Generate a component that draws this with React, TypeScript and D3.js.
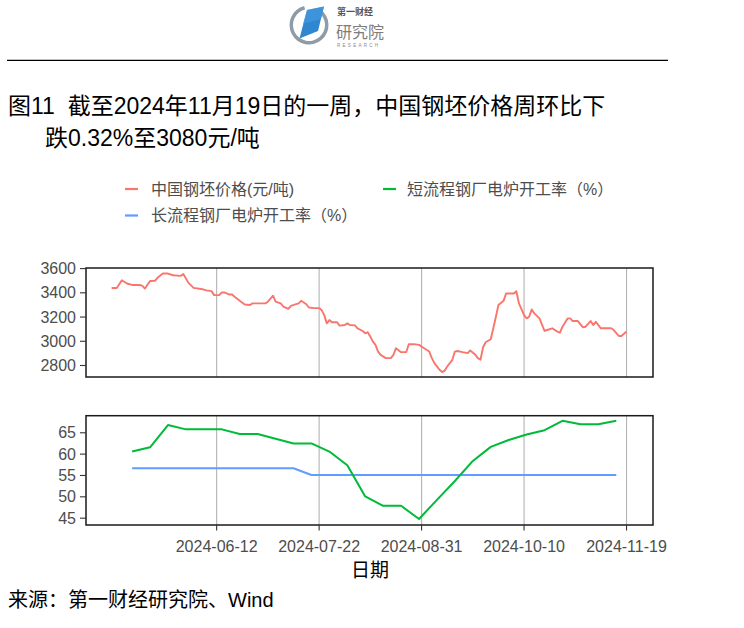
import React from 'react';
import * as d3 from 'd3';

// ---- Data ----
const priceDates = [
  '2024-05-02','2024-05-04','2024-05-06','2024-05-08','2024-05-10','2024-05-13','2024-05-14','2024-05-15','2024-05-17','2024-05-19',
  '2024-05-20','2024-05-22','2024-05-24','2024-05-26','2024-05-29','2024-05-30','2024-06-01','2024-06-03','2024-06-06','2024-06-08',
  '2024-06-10','2024-06-11','2024-06-13','2024-06-14','2024-06-15','2024-06-17','2024-06-18','2024-06-19','2024-06-21','2024-06-23',
  '2024-06-25','2024-06-26','2024-07-01','2024-07-02','2024-07-04','2024-07-05','2024-07-07','2024-07-08','2024-07-10','2024-07-11',
  '2024-07-13','2024-07-14','2024-07-15','2024-07-17','2024-07-18','2024-07-20','2024-07-22','2024-07-23','2024-07-24','2024-07-25',
  '2024-07-26','2024-07-27','2024-07-29','2024-07-30','2024-08-01','2024-08-02','2024-08-03','2024-08-05','2024-08-06','2024-08-08',
  '2024-08-09','2024-08-10','2024-08-11','2024-08-12','2024-08-13','2024-08-14','2024-08-15','2024-08-17','2024-08-19','2024-08-20',
  '2024-08-21','2024-08-23','2024-08-25','2024-08-26','2024-08-28','2024-08-30','2024-09-01','2024-09-03','2024-09-04','2024-09-05',
  '2024-09-07','2024-09-08','2024-09-09','2024-09-10','2024-09-12','2024-09-13','2024-09-14','2024-09-16','2024-09-18','2024-09-19',
  '2024-09-21','2024-09-22','2024-09-23','2024-09-24','2024-09-25','2024-09-27','2024-09-28','2024-09-29','2024-09-30','2024-10-02',
  '2024-10-03','2024-10-05','2024-10-06','2024-10-07','2024-10-08','2024-10-10','2024-10-11','2024-10-12','2024-10-13','2024-10-14',
  '2024-10-16','2024-10-18','2024-10-19','2024-10-21','2024-10-23','2024-10-24','2024-10-25','2024-10-27','2024-10-28','2024-10-29',
  '2024-10-31','2024-11-02','2024-11-03','2024-11-05','2024-11-06','2024-11-07','2024-11-09','2024-11-11','2024-11-13','2024-11-14',
  '2024-11-16','2024-11-17','2024-11-19',
];
const priceValues = [
  3440,3440,3504,3477,3465,3465,3458,3436,3498,3500,
  3526,3559,3559,3545,3540,3555,3482,3441,3432,3420,
  3414,3381,3381,3403,3403,3386,3386,3367,3334,3304,
  3300,3313,3313,3327,3376,3327,3313,3287,3268,3293,
  3306,3313,3334,3306,3279,3274,3274,3257,3216,3148,
  3175,3157,3157,3129,3134,3148,3134,3131,3107,3085,
  3066,3075,3038,2997,2970,2915,2888,2861,2861,2888,
  2943,2910,2910,2976,2976,2970,2943,2915,2861,2820,
  2765,2746,2757,2792,2847,2915,2920,2910,2902,2924,
  2888,2861,2847,2951,2992,3017,3107,3203,3299,3334,
  3395,3395,3395,3413,3312,3216,3189,3203,3263,3230,
  3189,3085,3093,3107,3080,3071,3120,3189,3189,3167,
  3167,3115,3120,3167,3134,3161,3107,3107,3107,3093,
  3044,3044,3080,
];

const rateDates = [
  '2024-05-10','2024-05-17','2024-05-24','2024-05-31','2024-06-07','2024-06-14','2024-06-21','2024-06-28',
  '2024-07-05','2024-07-12','2024-07-19','2024-07-26','2024-08-02','2024-08-09','2024-08-16','2024-08-23',
  '2024-08-30','2024-09-06','2024-09-13','2024-09-20','2024-09-27','2024-10-04','2024-10-11','2024-10-18',
  '2024-10-25','2024-11-01','2024-11-08','2024-11-15',
];
const shortRate = [
  60.6,61.6,66.8,65.8,65.8,65.8,64.7,64.7,
  63.6,62.5,62.5,60.6,57.4,50.1,47.9,47.9,
  44.8,49.3,53.7,58.4,61.7,63.3,64.6,65.6,
  67.8,67.0,67.0,67.8,
];
const longRate = [
  56.7,56.7,56.7,56.7,56.7,56.7,56.7,56.7,
  56.7,56.7,55.1,55.1,55.1,55.1,55.1,55.1,
  55.1,55.1,55.1,55.1,55.1,55.1,55.1,55.1,
  55.1,55.1,55.1,55.1,
];

const xTickLabels = ['2024-06-12','2024-07-22','2024-08-31','2024-10-10','2024-11-19'];
const priceTicks = [2800, 3000, 3200, 3400, 3600];
const rateTicks = [45, 50, 55, 60, 65];

const seriesNames = ['中国钢坯价格(元/吨)', '短流程钢厂电炉开工率（%）', '长流程钢厂电炉开工率（%）'];
const seriesColors = ['#F8766D', '#00BA38', '#619CFF'];

const titleLine1 = '图11  截至2024年11月19日的一周，中国钢坯价格周环比下';
const titleLine2 = '跌0.32%至3080元/吨';
const xAxisTitle = '日期';
const sourceText = '来源：第一财经研究院、Wind';

const FONT = '"Liberation Sans", Arial, "Noto Sans CJK SC", sans-serif';

export default function App() {
  const parse = d3.utcParse('%Y-%m-%d');
  const L = 86, R = 653;
  const topP = { y0: 268, y1: 377 };
  const botP = { y0: 415.7, y1: 525 };

  const x = d3.scaleUtc()
    .domain([new Date(Date.UTC(2024, 3, 22)), new Date(Date.UTC(2024, 10, 29, 8))])
    .range([L, R]);
  const yTop = d3.scaleLinear().domain([2705, 3605]).range([topP.y1, topP.y0]);
  const yBot = d3.scaleLinear().domain([43.4, 69.0]).range([botP.y1, botP.y0]);

  const priceData = priceDates.map((d, i) => ({ t: parse(d) as Date, v: priceValues[i] }));
  const shortData = rateDates.map((d, i) => ({ t: parse(d) as Date, v: shortRate[i] }));
  const longData = rateDates.map((d, i) => ({ t: parse(d) as Date, v: longRate[i] }));

  const priceLine = d3.line<{ t: Date; v: number }>().x(d => x(d.t)).y(d => yTop(d.v));
  const rateLine = d3.line<{ t: Date; v: number }>().x(d => x(d.t)).y(d => yBot(d.v));

  const gridX = xTickLabels.map(s => x(parse(s) as Date));

  const axisColor = '#4d4d4d';

  const ringArc = d3.arc()({
    innerRadius: 16,
    outerRadius: 19.5,
    startAngle: Math.PI * 0.2,
    endAngle: Math.PI * 1.92,
  } as any) as string;

  return (
    <div style={{ position: 'absolute', left: 0, top: 0 }}>
      <svg width={744} height={628} style={{ display: 'block', background: '#fff' }} fontFamily={FONT}>
        <rect x={0} y={0} width={744} height={628} fill="#fff" />
        {/* Logo */}
        <g>
          <path d={ringArc} transform="translate(309,25)" fill="#8f9ba6" />
          <polygon points="307,10 324,6.5 318,31 299.5,38.5" fill="#2f86d1" />
          <polygon points="307,10 324,6.5 321,19 303,24" fill="#4a9ee0" opacity={0.6} />
          <text x={337} y={15} fontSize={9} fontWeight="bold" fill="#555" fontFamily='"Noto Sans CJK SC", sans-serif'>第一财经</text>
          <text x={336} y={38} fontSize={16} fill="#7d7d7d" fontFamily='"Noto Sans CJK SC", sans-serif'>研究院</text>
          <text x={337} y={47} fontSize={4.5} fill="#888" letterSpacing={2.3}>RESEARCH</text>
        </g>
        <line x1={7} x2={668} y1={60.3} y2={60.3} stroke="#000" strokeWidth={1.3} />

        {/* Title */}
        <text x={8} y={114} fontSize={23} fill="#000" style={{ whiteSpace: 'pre' }}>{titleLine1}</text>
        <text x={45} y={146} fontSize={23} fill="#000">{titleLine2}</text>

        {/* Legend */}
        <g fontSize={16} fill={axisColor}>
          <line x1={125} x2={138} y1={189} y2={189} stroke={seriesColors[0]} strokeWidth={2.2} />
          <text x={151} y={189} dominantBaseline="central">{seriesNames[0]}</text>
          <line x1={383} x2={396} y1={189} y2={189} stroke={seriesColors[1]} strokeWidth={2.2} />
          <text x={407} y={189} dominantBaseline="central">{seriesNames[1]}</text>
          <line x1={125} x2={138} y1={215.5} y2={215.5} stroke={seriesColors[2]} strokeWidth={2.2} />
          <text x={151} y={215.5} dominantBaseline="central">{seriesNames[2]}</text>
        </g>

        {/* Top panel */}
        <g>
          {gridX.map((gx, i) => (
            <line key={'gt' + i} x1={gx} x2={gx} y1={topP.y0} y2={topP.y1} stroke="#b3b3b3" strokeWidth={1.1} />
          ))}
          <path d={priceLine(priceData) as string} fill="none" stroke={seriesColors[0]} strokeWidth={1.9} strokeLinejoin="round" />
          <rect x={L} y={topP.y0} width={R - L} height={topP.y1 - topP.y0} fill="none" stroke="#1a1a1a" strokeWidth={1.5} />
          {priceTicks.map(t => (
            <g key={'pt' + t}>
              <line x1={80} x2={L} y1={yTop(t)} y2={yTop(t)} stroke="#333" strokeWidth={1.1} />
              <text x={76} y={yTop(t)} textAnchor="end" dominantBaseline="central" fontSize={16} fill={axisColor}>{t}</text>
            </g>
          ))}
        </g>

        {/* Bottom panel */}
        <g>
          {gridX.map((gx, i) => (
            <line key={'gb' + i} x1={gx} x2={gx} y1={botP.y0} y2={botP.y1} stroke="#b3b3b3" strokeWidth={1.1} />
          ))}
          <path d={rateLine(longData) as string} fill="none" stroke={seriesColors[2]} strokeWidth={2} strokeLinejoin="round" />
          <path d={rateLine(shortData) as string} fill="none" stroke={seriesColors[1]} strokeWidth={2} strokeLinejoin="round" />
          <rect x={L} y={botP.y0} width={R - L} height={botP.y1 - botP.y0} fill="none" stroke="#1a1a1a" strokeWidth={1.5} />
          {rateTicks.map(t => (
            <g key={'rt' + t}>
              <line x1={80} x2={L} y1={yBot(t)} y2={yBot(t)} stroke="#333" strokeWidth={1.1} />
              <text x={76} y={yBot(t)} textAnchor="end" dominantBaseline="central" fontSize={16} fill={axisColor}>{t}</text>
            </g>
          ))}
          {xTickLabels.map((s, i) => (
            <g key={'xt' + s}>
              <line x1={gridX[i]} x2={gridX[i]} y1={botP.y1} y2={botP.y1 + 5.5} stroke="#333" strokeWidth={1.1} />
              <text x={gridX[i]} y={546} textAnchor="middle" dominantBaseline="central" fontSize={16} fill={axisColor}>{s}</text>
            </g>
          ))}
        </g>

        <text x={370} y={570} textAnchor="middle" dominantBaseline="central" fontSize={19} fill="#000">{xAxisTitle}</text>
        <text x={8} y={600} dominantBaseline="central" fontSize={20} fill="#000">{sourceText}</text>
      </svg>
    </div>
  );
}
